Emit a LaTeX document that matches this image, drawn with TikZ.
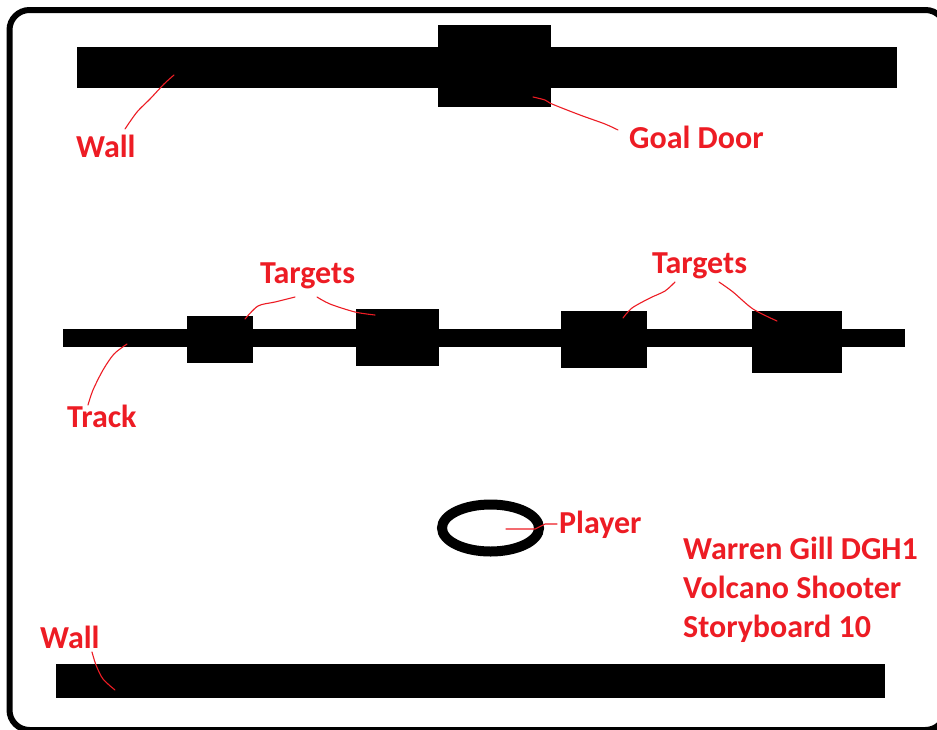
\documentclass[tikz,border=0pt]{standalone}
\usepackage{fontspec}
\setmainfont{Carlito}
\definecolor{pred}{HTML}{ED1C24}
\begin{document}
\begin{tikzpicture}[x=1pt,y=-1pt,
  blk/.style={fill=black, draw=none, inner sep=0pt, anchor=north west},
  lbl/.style={text=pred, font=\fontsize{32}{38}\selectfont\bfseries, inner sep=0pt, anchor=base west},
  lead/.style={draw=pred, line width=1.1pt, line cap=round, line join=round},
  frame/.style={draw=black, line width=6pt, rounded corners=20pt}]
\useasboundingbox (0,0) rectangle (937,729);
\clip (0,0) rectangle (937,729);
\fill[white] (0,0) rectangle (937,729);
\draw[frame] (9.5,10) rectangle (945.5,730);

% walls and door
\node[blk, minimum width=820pt, minimum height=41pt] (topwall) at (77,47) {};
\node[blk, minimum width=113pt, minimum height=82pt] (door) at (438,25) {};
\node[blk, minimum width=829pt, minimum height=34pt] (botwall) at (56,664) {};

% track and targets
\node[blk, minimum width=842pt, minimum height=18pt] (track) at (63,329) {};
\node[blk, minimum width=66pt, minimum height=47pt] (t1) at (187,316) {};
\node[blk, minimum width=83pt, minimum height=57pt] (t2) at (356,309) {};
\node[blk, minimum width=86pt, minimum height=57pt] (t3) at (561,311) {};
\node[blk, minimum width=90pt, minimum height=62pt] (t4) at (752,311) {};

% player
\draw[line width=10pt] (490.5,528) ellipse [x radius=48.5, y radius=23.5];
\coordinate (player) at (490.5,528);

% labels
\node[lbl] (lwall1) at (76,157) {Wall};
\node[lbl] (lgoal) at (629,148) {Goal Door};
\node[lbl] (ltarg1) at (260,283) {Targets};
\node[lbl] (ltarg2) at (652,273) {Targets};
\node[lbl] (ltrack) at (67,427) {Track};
\node[lbl] (lplayer) at (559,533) {Player};
\node[lbl] (lwall2) at (40,648) {Wall};
\node[lbl] (linfo1) at (683,559) {Warren Gill DGH1};
\node[lbl] (linfo2) at (683,598) {Volcano Shooter};
\node[lbl] (linfo3) at (683,637) {Storyboard 10};

% leader lines
\draw[lead] plot[smooth] coordinates {(174,75) (164,84) (150,99) (137,112) (125,129)};
\draw[lead] plot[smooth] coordinates {(533,97) (545,100) (552,104) (580,115) (605,124) (618,130)};
\draw[lead] plot[smooth] coordinates {(245,319) (258,306) (275,302) (295,297)};
\draw[lead] plot[smooth] coordinates {(317,297) (330,304) (355,312) (375,315)};
\draw[lead] plot[smooth] coordinates {(623,318) (632,308) (650,298) (665,291) (675,282)};
\draw[lead] plot[smooth] coordinates {(719,282) (733,292) (753,309) (777,321)};
\draw[lead] plot[smooth] coordinates {(127,344) (114,354) (103,370) (93,390) (88,405)};
\draw[lead] plot[smooth] coordinates {(92,652) (96,665) (103,679) (115,690)};
\draw[lead] (506,529) -- (535,529) -- (545,524) -- (557,524);
\end{tikzpicture}
\end{document}
